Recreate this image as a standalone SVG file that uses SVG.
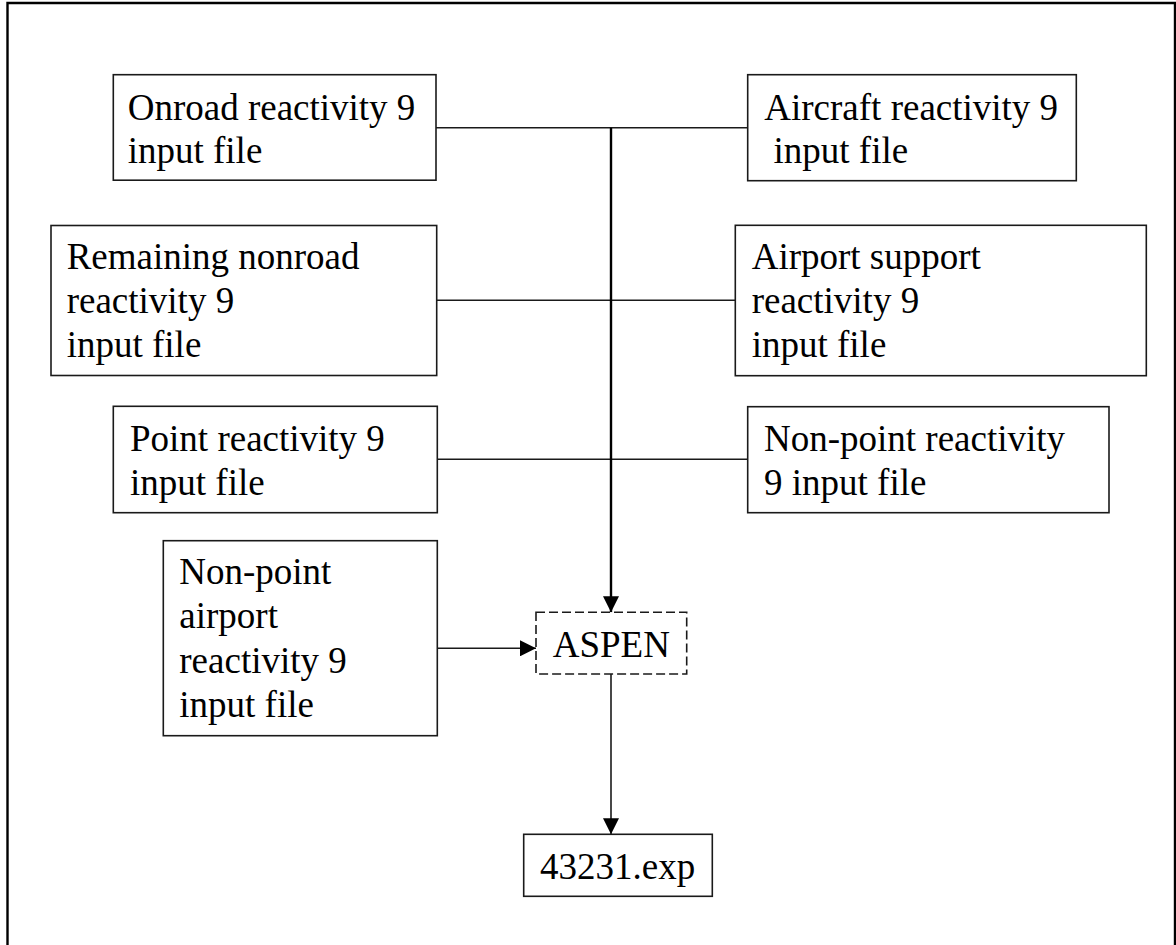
<svg xmlns="http://www.w3.org/2000/svg" width="1176" height="945" viewBox="0 0 1176 945">
<style>
.box{fill:#fff;stroke:#1a1a1a;stroke-width:1.6}
.dash{fill:#fff;stroke:#1a1a1a;stroke-width:1.6;stroke-dasharray:9,4}
.t{font-family:"Liberation Serif","Times New Roman",serif;font-size:37px;fill:#000}
.ln{fill:none;stroke:#1a1a1a;stroke-width:1.6}
.main{fill:none;stroke:#000;stroke-width:2.4}
</style>
<defs>
<marker id="ah" markerWidth="16" markerHeight="16" viewBox="0 0 16 16" refX="16" refY="8" orient="auto" markerUnits="userSpaceOnUse">
<path d="M0,0 L16,8 L0,16 Z" fill="#000"/>
</marker>
</defs>
<rect width="1176" height="945" fill="#fff"/>
<path d="M7.5,950 V3 H1175 V950" fill="none" stroke="#000" stroke-width="2.4"/>

<g id="connectors">
<line class="ln" x1="436" y1="127.7" x2="747.7" y2="127.7"/>
<line class="ln" x1="436.7" y1="300.3" x2="735.3" y2="300.3"/>
<line class="ln" x1="437.3" y1="459.2" x2="747.7" y2="459.2"/>
<line class="main" x1="611" y1="127.7" x2="611" y2="612.3" marker-end="url(#ah)"/>
<line class="ln" x1="437.3" y1="648.3" x2="536" y2="648.3" marker-end="url(#ah)"/>
<line class="ln" x1="611" y1="674" x2="611" y2="834.3" marker-end="url(#ah)"/>
</g>

<g id="onroad">
<rect class="box" x="113.3" y="74.7" width="322.7" height="105.5"/>
<text class="t" x="127.7" y="119.5">Onroad reactivity 9</text>
<text class="t" x="127.7" y="163">input file</text>
</g>

<g id="aircraft">
<rect class="box" x="747.7" y="74.7" width="328.6" height="106"/>
<text class="t" x="764.3" y="119.5">Aircraft reactivity 9</text>
<text class="t" x="764.3" y="163" xml:space="preserve"> input file</text>
</g>

<g id="remaining-nonroad">
<rect class="box" x="51" y="225.5" width="385.7" height="150"/>
<text class="t" x="66.7" y="269.3">Remaining nonroad</text>
<text class="t" x="66.7" y="313.3">reactivity 9</text>
<text class="t" x="66.7" y="357.3">input file</text>
</g>

<g id="airport-support">
<rect class="box" x="735.3" y="225.3" width="411" height="150.4"/>
<text class="t" x="751.7" y="269.3">Airport support</text>
<text class="t" x="751.7" y="313.3">reactivity 9</text>
<text class="t" x="751.7" y="357.3">input file</text>
</g>

<g id="point">
<rect class="box" x="113.3" y="406.3" width="324" height="106.4"/>
<text class="t" x="130" y="450.7">Point reactivity 9</text>
<text class="t" x="130" y="494.7">input file</text>
</g>

<g id="non-point">
<rect class="box" x="747.7" y="406.7" width="361.3" height="106"/>
<text class="t" x="764" y="450.7">Non-point reactivity</text>
<text class="t" x="764" y="494.5">9 input file</text>
</g>

<g id="non-point-airport">
<rect class="box" x="163.3" y="540.7" width="274" height="195"/>
<text class="t" x="179.3" y="584.3">Non-point</text>
<text class="t" x="179.3" y="628.3">airport</text>
<text class="t" x="179.3" y="672.7">reactivity 9</text>
<text class="t" x="179.3" y="716.7">input file</text>
</g>

<g id="aspen">
<rect class="dash" x="536" y="612.3" width="150.7" height="61.7"/>
<text class="t" x="552.7" y="656.7">ASPEN</text>
</g>

<g id="exp">
<rect class="box" x="523.7" y="834.3" width="188.6" height="62"/>
<text class="t" x="540" y="879.3">43231.exp</text>
</g>
</svg>
